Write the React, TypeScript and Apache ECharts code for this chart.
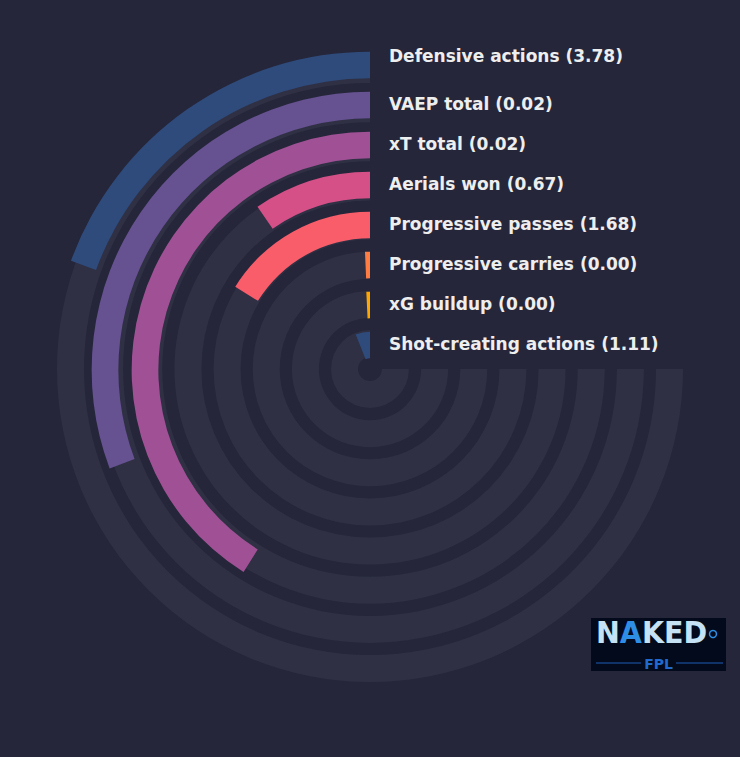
import React, { useEffect, useRef } from "react";
import * as echarts from "echarts";

// Metric names, top (outer ring) to bottom (inner ring)
const CATEGORIES = [
  "Defensive actions",
  "VAEP total",
  "xT total",
  "Aerials won",
  "Progressive passes",
  "Progressive carries",
  "xG buildup",
  "Shot-creating actions",
];
// Per-90 values shown in the labels
const RAW_VALUES = [3.78, 0.02, 0.02, 0.67, 1.68, 0.0, 0.0, 1.11];
// Percentile ranks (bar length, share of the 270° track)
const PERCENTILES = [25.9, 41.0, 54.8, 12.8, 21.6, 0.9, 1.0, 8.1];
const COLORS = ["#2f4b7c", "#665191", "#a05195", "#d45087", "#f95d6a", "#ff7c43", "#ffa600", "#2f4b7c"];
const TRACK_MAX = 100;

const BG = "#25263a";
const TRACK = "#2f3044";
const CX = 370;
const CY = 370;

export default function App() {
  const ref = useRef<HTMLDivElement>(null);

  useEffect(() => {
    if (!ref.current) return;
    const chart = echarts.init(ref.current, undefined, { renderer: "svg" });
    const angleMax = (TRACK_MAX * 360) / 270;

    const labels = CATEGORIES.map((name, i) => {
      const ringR = 305 - 40 * i;
      const y = i === 0 ? CY - ringR - 9 : CY - ringR - 1;
      return {
        type: "text",
        x: 389,
        y,
        style: {
          text: `${name} (${RAW_VALUES[i].toFixed(2)})`,
          fill: "#eeeeee",
          font: "bold 17px 'DejaVu Sans'",
          verticalAlign: "middle",
          align: "left",
        },
        z: 10,
      };
    });

    const logo = [
      { type: "rect", shape: { x: 591, y: 618, width: 135, height: 53 }, style: { fill: "#020a1c" }, z: 10 },
      {
        type: "text",
        x: 596,
        y: 632,
        scaleX: 0.92,
        style: {
          text: "{w|N}{b|A}{w|KED}",
          verticalAlign: "middle",
          rich: {
            w: { fill: "#c4e2f4", font: "bold 31px 'DejaVu Sans'" },
            b: { fill: "#2e8ee6", font: "bold 31px 'DejaVu Sans'" },
          },
        },
        z: 11,
      },
      { type: "circle", shape: { cx: 713, cy: 634, r: 3.5 }, style: { fill: "none", stroke: "#2e8ee6", lineWidth: 1.5 }, z: 11 },
      { type: "line", shape: { x1: 596, y1: 663, x2: 641, y2: 663 }, style: { stroke: "#1f5fb8", lineWidth: 1 }, z: 11 },
      { type: "line", shape: { x1: 676, y1: 663, x2: 723, y2: 663 }, style: { stroke: "#1f5fb8", lineWidth: 1 }, z: 11 },
      {
        type: "text",
        x: 658.5,
        y: 663.5,
        style: {
          text: "FPL",
          fill: "#2069d0",
          font: "bold 14px 'DejaVu Sans'",
          align: "center",
          verticalAlign: "middle",
        },
        z: 11,
      },
    ];

    chart.setOption({
      animation: false,
      backgroundColor: BG,
      polar: [
        { center: [CX, CY], radius: [5, 325] },
        { center: [CX, CY - 1], radius: [5.9, 319.1] },
      ],
      angleAxis: [
        { polarIndex: 0, type: "value", min: 0, max: angleMax, startAngle: 90, clockwise: false, show: false },
        { polarIndex: 1, type: "value", min: 0, max: angleMax, startAngle: 90, clockwise: false, show: false },
      ],
      radiusAxis: [
        { polarIndex: 0, type: "category", data: CATEGORIES, inverse: true, show: false },
        { polarIndex: 1, type: "category", data: CATEGORIES, inverse: true, show: false },
      ],
      series: [
        {
          type: "bar",
          coordinateSystem: "polar",
          polarIndex: 1,
          barWidth: 27,
          data: CATEGORIES.map(() => TRACK_MAX),
          itemStyle: { color: TRACK },
          silent: true,
          z: 1,
        },
        {
          type: "bar",
          coordinateSystem: "polar",
          polarIndex: 0,
          barWidth: 26.7,
          data: PERCENTILES.map((v, i) => ({ value: v, itemStyle: { color: COLORS[i] } })),
          z: 2,
        },
      ],
      graphic: [...labels, ...logo],
    });

    return () => chart.dispose();
  }, []);

  return (
    <div
      ref={ref}
      style={{ position: "fixed", left: 0, top: 0, width: 740, height: 757 }}
    />
  );
}
